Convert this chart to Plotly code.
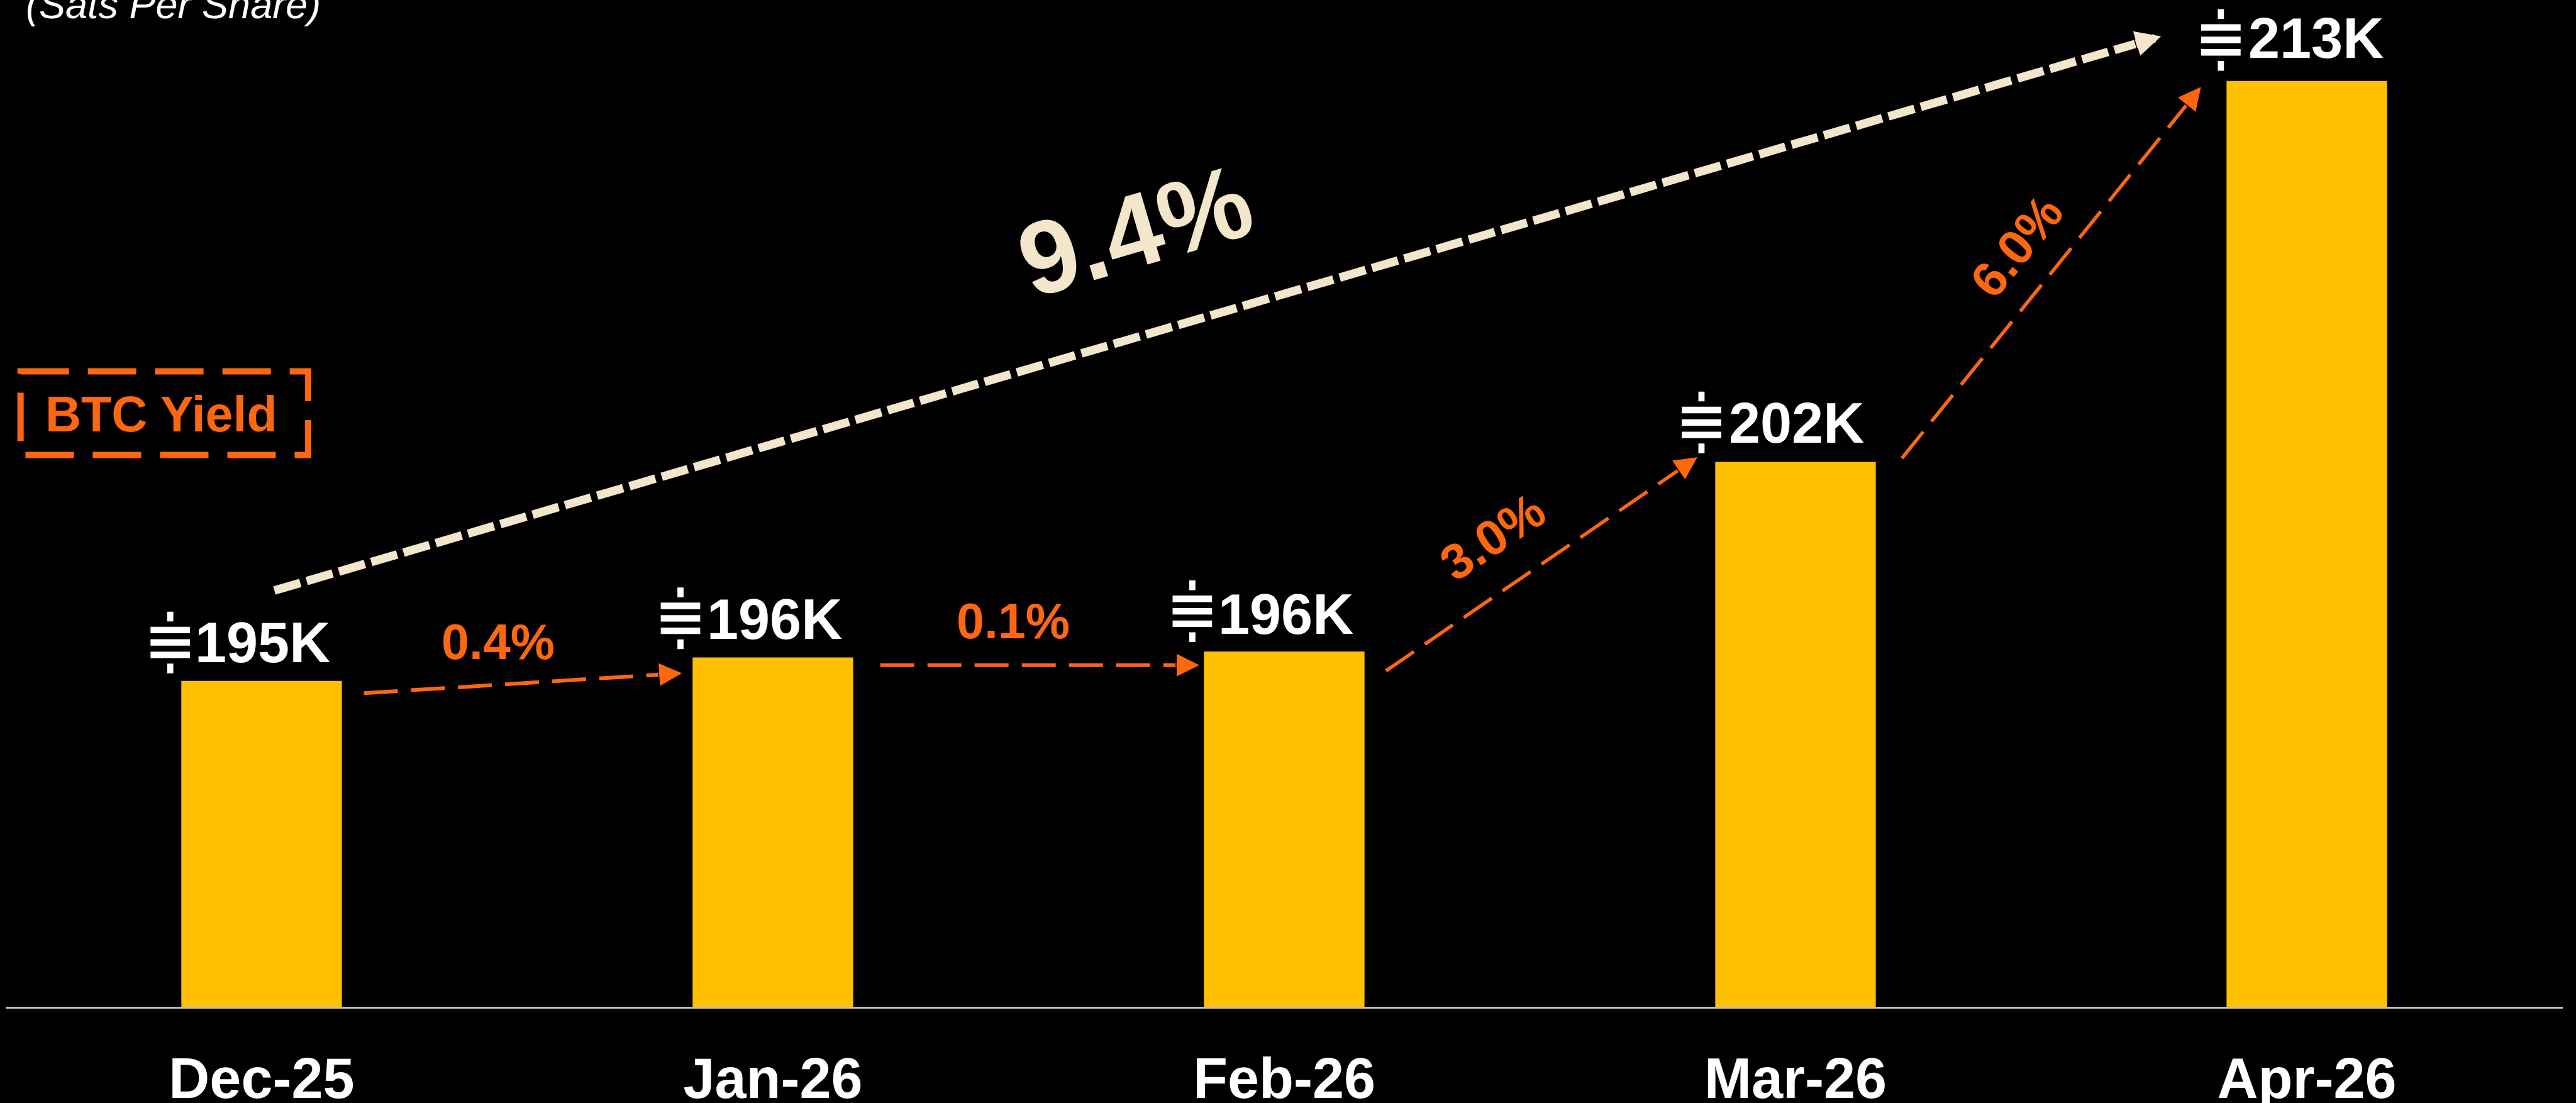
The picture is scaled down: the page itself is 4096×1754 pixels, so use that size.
import plotly.graph_objects as go

# ---------- data ----------
months = ["Dec-25", "Jan-26", "Feb-26", "Mar-26", "Apr-26"]
sats_k = [195.0, 195.7, 195.88, 201.57, 213.0]
bar_labels = ["195K", "196K", "196K", "202K", "213K"]
yield_labels = ["0.4%", "0.1%", "3.0%", "6.0%"]
yield_angles = [0, 0, -34, -51]
total_yield_label = "9.4%"

# arrow ends, in axis units (category index, thousands of sats)
arrow_x0 = [0.200, 1.210, 2.199, 3.208]
arrow_y0 = [194.63, 195.47, 195.30, 201.68]
arrow_x1 = [0.822, 1.834, 2.808, 3.793]
arrow_y1 = [195.23, 195.47, 201.71, 212.82]
arrow_w = [6, 6, 5.5, 5.5]
total_x = [0.025, 3.715]
total_y = [197.71, 214.34]
# centres of the yield labels
yield_lx = [0.462, 1.470, 2.407, 3.432]
yield_ly = [196.17, 196.80, 199.33, 208.05]
total_lx, total_ly = 1.708, 208.5

ORANGE = "#FD6710"
GOLD = "#FFC000"
CREAM = "#F3E6CB"
WHITE = "#FFFFFF"
FONT = "Liberation Sans"
W, H = 4096, 1754
S = W / 4765  # reference -> window
PLOT_H = 1863 * S


def px(v):
    return v * S


def paper_x(p):
    return p * S / W


def paper_y(p):
    return 1 - p * S / PLOT_H


fig = go.Figure()
fig.add_bar(x=list(range(5)), y=sats_k, width=0.314, marker=dict(color=GOLD, line_width=0), showlegend=False)

annotations = []
shapes = []

# orange dashed arrows
for i in range(4):
    dx, dy = arrow_x1[i] - arrow_x0[i], arrow_y1[i] - arrow_y0[i]
    length = ((dx * 946) ** 2 + (dy * 61.67) ** 2) ** 0.5
    t = 1 - 44 / length
    tx, ty = arrow_x0[i] + dx * t, arrow_y0[i] + dy * t
    fig.add_scatter(x=[arrow_x0[i], tx], y=[arrow_y0[i], ty], mode="lines", showlegend=False,
                    line=dict(color=ORANGE, width=arrow_w[i], dash="54px,21px"))
    annotations.append(dict(x=arrow_x1[i], y=arrow_y1[i], ax=tx, ay=ty, xref="x", yref="y", axref="x", ayref="y",
                            text="", showarrow=True, arrowhead=2, arrowsize=7.2 / arrow_w[i], arrowwidth=arrow_w[i],
                            arrowcolor=ORANGE, standoff=0))
    annotations.append(dict(x=yield_lx[i], y=yield_ly[i], xref="x", yref="y", text=yield_labels[i], showarrow=False,
                            textangle=yield_angles[i], xanchor="center", yanchor="middle",
                            font=dict(family=FONT, size=79, color=ORANGE, weight=700)))

# total arrow
dx, dy = total_x[1] - total_x[0], total_y[1] - total_y[0]
length = ((dx * 946) ** 2 + (dy * 61.67) ** 2) ** 0.5
t = 1 - 50 / length
tx, ty = total_x[0] + dx * t, total_y[0] + dy * t
fig.add_scatter(x=[total_x[0], tx], y=[total_y[0], ty], mode="lines", showlegend=False,
                line=dict(color=CREAM, width=13.5, dash="43px,10.5px"))
annotations.append(dict(x=total_x[1], y=total_y[1], ax=tx, ay=ty, xref="x", yref="y", axref="x", ayref="y",
                        text="", showarrow=True, arrowhead=2, arrowsize=0.6, arrowwidth=13.5,
                        arrowcolor=CREAM, standoff=0))
annotations.append(dict(x=total_lx, y=total_ly, xref="x", yref="y", text=total_yield_label, showarrow=False,
                        textangle=-16.4, xanchor="center", yanchor="middle",
                        font=dict(family=FONT, size=165, color=CREAM, weight=700)))

# bar value labels with the sats glyph (offsets from each bar top, in reference px)
label_left = [-126, -124, -125, -126, -110]
label_gap = [34, 34, 33, 35, 43]
sym_dx = [-169, -171, -170, -174, -159]
sym_dy = [-71, -72.5, -74.5, -73, -76]


def sats_path():
    hw, t, g = px(36.5), px(12), px(23)
    tw, t0, t1 = px(5.7), px(39), px(57)
    parts = []
    for c in (-g, 0, g):
        parts.append(f"M{-hw},{c - t / 2} L{hw},{c - t / 2} L{hw},{c + t / 2} L{-hw},{c + t / 2} Z")
    for a, b in ((t0, t1), (-t1, -t0)):
        parts.append(f"M{-tw},{a} L{tw},{a} L{tw},{b} L{-tw},{b} Z")
    return " ".join(parts)


for i in range(5):
    annotations.append(dict(x=i, y=sats_k[i], xref="x", yref="y", text=bar_labels[i], showarrow=False,
                            xanchor="left", yanchor="bottom", xshift=px(label_left[i]),
                            yshift=px(label_gap[i]) - 21,
                            font=dict(family=FONT, size=90, color=WHITE, weight=700)))
    shapes.append(dict(type="path", xsizemode="pixel", ysizemode="pixel", xref="x", yref="y",
                       xanchor=i + sym_dx[i] / 946, yanchor=sats_k[i] - sym_dy[i] / 61.67,
                       path=sats_path(), fillcolor=WHITE, line_width=0))

# subtitle, cut by the top edge in the reference
annotations.append(dict(x=paper_x(45), y=1, xref="paper", yref="paper", text="<i>(Sats Per Share)</i>",
                        showarrow=False, xanchor="left", yanchor="top", yshift=30,
                        font=dict(family=FONT, size=63, color=WHITE)))

# BTC Yield box
shapes.append(dict(type="rect", xref="paper", yref="paper", x0=paper_x(38), x1=paper_x(570),
                   y0=paper_y(687), y1=paper_y(842), line=dict(color=ORANGE, width=10, dash="77px,30px")))
annotations.append(dict(x=paper_x(298), y=paper_y(766), xref="paper", yref="paper", text="BTC Yield",
                        showarrow=False, xanchor="center", yanchor="middle",
                        font=dict(family=FONT, size=79, color=ORANGE, weight=700)))

fig.update_layout(
    width=W, height=H, margin=dict(l=0, r=0, t=0, b=H - PLOT_H, autoexpand=False),
    paper_bgcolor="#000000", plot_bgcolor="#000000", showlegend=False, annotations=annotations, shapes=shapes,
    xaxis=dict(domain=[11 / 4765, 4740 / 4765], range=[-0.5, 4.5], tickvals=list(range(5)), ticktext=months,
               showgrid=False, zeroline=False, showline=True, linecolor="#BFBFBF", linewidth=2.5,
               ticks="outside", ticklen=34, tickcolor="rgba(0,0,0,0)",
               tickfont=dict(family=FONT, size=90, color=WHITE, weight=700)),
    yaxis=dict(range=[185.22, 215.43], visible=False, showgrid=False, zeroline=False),
)
fig.write_html("out.html", config=dict(displayModeBar=False),
               post_script="document.body.style.margin='0';document.body.style.overflow='hidden';")
